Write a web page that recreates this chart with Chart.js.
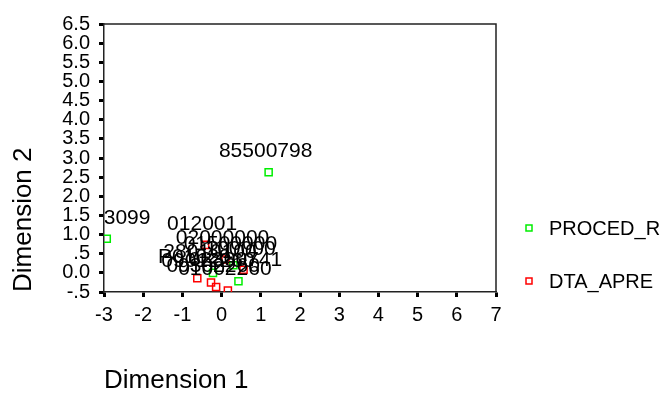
<!DOCTYPE html>
<html>
<head>
<meta charset="utf-8">
<script src="https://cdn.jsdelivr.net/npm/chart.js@4.4.1/dist/chart.umd.min.js"></script>
<style>
  html, body { margin: 0; padding: 0; background: #fff; }
  #wrap { width: 671px; height: 394px; }
</style>
</head>
<body>
<div id="wrap"><canvas id="scatterChart" width="671" height="394"></canvas></div>
<script>
// series names
const seriesNames = ['PROCED_R', 'DTA_APRE'];

// PROCED_R points (dimension 1, dimension 2) and labels
const procedX = [-2.93, 1.20, -0.22, 0.43, 0.30];
const procedY = [0.89, 2.63, 0.00, -0.22, 0.20];
const procedLabels = ['00103099', '85500798', '28010100', '02300741', '01500000'];

// DTA_APRE points and labels
const dtaX = [-0.62, -0.27, -0.14, 0.16, 0.56, -0.42, 0.10];
const dtaY = [-0.14, -0.25, -0.37, -0.46, 0.08, 0.73, 0.35];
const dtaLabels = ['P01020', '09012260', '09302260', '01002260', '100000', '012001', '02000000'];

// axis ticks
const yTickLabels = ['-.5', '0.0', '.5', '1.0', '1.5', '2.0', '2.5', '3.0', '3.5', '4.0', '4.5', '5.0', '5.5', '6.0', '6.5'];
const axisTitles = ['Dimension 1', 'Dimension 2'];

const seriesColors = ['#00ee00', '#ff0000'];
const fontFam = '"Liberation Sans", Arial, sans-serif';

function toPoints(xs, ys) {
  return xs.map((x, i) => ({ x: x, y: ys[i] }));
}

// labels above each point, clipped to the plot area
const pointLabels = {
  id: 'pointLabels',
  afterDatasetsDraw(chart) {
    const ctx = chart.ctx;
    const area = chart.chartArea;
    const allLabels = [procedLabels, dtaLabels];
    ctx.save();
    ctx.beginPath();
    ctx.rect(area.left + 1, area.top, area.right - area.left, area.bottom - area.top);
    ctx.clip();
    ctx.font = '21px ' + fontFam;
    ctx.fillStyle = '#000';
    ctx.textAlign = 'center';
    ctx.textBaseline = 'alphabetic';
    chart.data.datasets.forEach((ds, di) => {
      chart.getDatasetMeta(di).data.forEach((pt, i) => {
        ctx.fillText(allLabels[di][i], pt.x - 3, pt.y - 15);
      });
    });
    ctx.restore();
  }
};

// frame round the plot + legend on the right
const frameAndLegend = {
  id: 'frameAndLegend',
  afterDraw(chart) {
    const ctx = chart.ctx;
    const a = chart.chartArea;
    ctx.save();
    ctx.strokeStyle = '#222';
    ctx.lineWidth = 1.5;
    ctx.beginPath();
    ctx.moveTo(a.left, a.top);
    ctx.lineTo(a.right, a.top);
    ctx.lineTo(a.right, a.bottom);
    ctx.stroke();

    ctx.font = '20px ' + fontFam;
    ctx.textAlign = 'left';
    ctx.textBaseline = 'middle';
    chart.data.datasets.forEach((ds, i) => {
      const y = 228 + i * 53;
      ctx.strokeStyle = ds.borderColor;
      ctx.lineWidth = 1.5;
      ctx.strokeRect(526, y - 3, 6, 6);
      ctx.fillStyle = '#000';
      ctx.fillText(ds.label, 549, y + 1);
    });
    ctx.restore();
  }
};

new Chart(document.getElementById('scatterChart'), {
  type: 'scatter',
  data: {
    datasets: [
      {
        label: seriesNames[0],
        data: toPoints(procedX, procedY),
        borderColor: seriesColors[0],
        backgroundColor: 'rgba(0,0,0,0)',
        pointStyle: 'rect',
        pointRadius: 5,
        borderWidth: 1.5
      },
      {
        label: seriesNames[1],
        data: toPoints(dtaX, dtaY),
        borderColor: seriesColors[1],
        backgroundColor: 'rgba(0,0,0,0)',
        pointStyle: 'rect',
        pointRadius: 5,
        borderWidth: 1.5
      }
    ]
  },
  options: {
    responsive: false,
    animation: false,
    layout: { padding: { left: 0, top: 24, right: 175, bottom: 0 } },
    plugins: {
      legend: { display: false },
      tooltip: { enabled: false }
    },
    scales: {
      x: {
        type: 'linear',
        min: -3,
        max: 7,
        afterFit: s => { s.height = 102; },
        ticks: {
          stepSize: 1,
          color: '#000',
          padding: 6,
          font: { family: fontFam, size: 20 }
        },
        grid: { drawOnChartArea: false, tickLength: 5, tickWidth: 3, tickColor: '#000' },
        border: { color: '#222', width: 1.5 },
        title: {
          display: true,
          text: axisTitles[0],
          align: 'start',
          color: '#000',
          padding: { top: 0, bottom: 0 },
          font: { family: fontFam, size: 26, lineHeight: 1 }
        }
      },
      y: {
        type: 'linear',
        min: -0.5,
        max: 6.5,
        afterFit: s => { s.width = 104; },
        ticks: {
          stepSize: 0.5,
          autoSkip: false,
          color: '#000',
          padding: 9,
          font: { family: fontFam, size: 20, lineHeight: 1 },
          callback: (value, index) => yTickLabels[index]
        },
        grid: { drawOnChartArea: false, tickLength: 5, tickWidth: 3, tickColor: '#000' },
        border: { color: '#222', width: 1.5 },
        title: {
          display: true,
          text: axisTitles[1],
          align: 'start',
          color: '#000',
          padding: { top: 11, bottom: 0 },
          font: { family: fontFam, size: 26, lineHeight: 1 }
        }
      }
    }
  },
  plugins: [pointLabels, frameAndLegend]
});
</script>
</body>
</html>
